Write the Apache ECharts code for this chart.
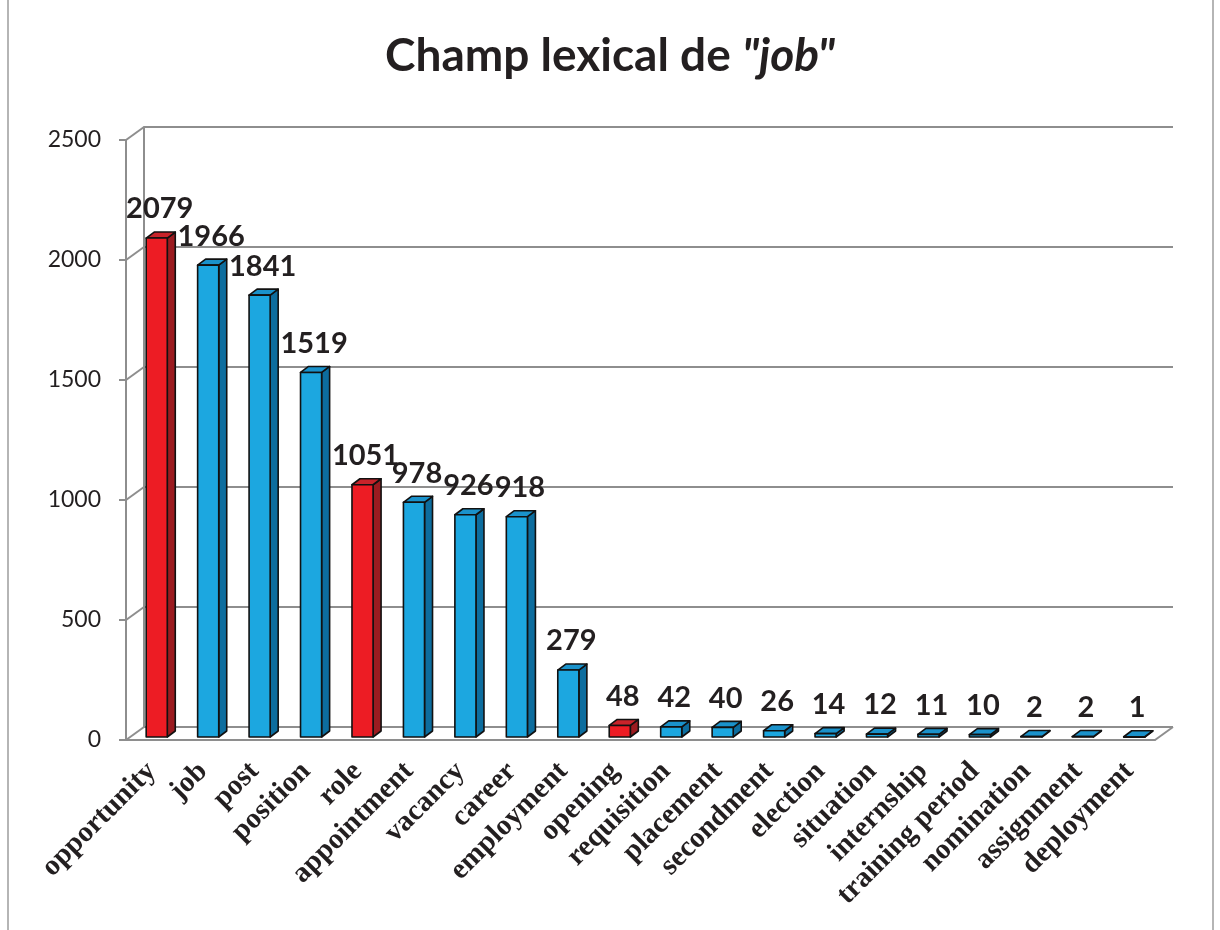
<!DOCTYPE html>
<html>
<head>
<meta charset="utf-8">
<script src="https://cdn.jsdelivr.net/npm/echarts@6/dist/echarts.min.js"></script>
<style>
html, body { margin: 0; padding: 0; background: #fff; }
#main { width: 1220px; height: 930px; }
</style>
</head>
<body>
<div id="main"></div>
<script>
// données
var categories = ['opportunity', 'job', 'post', 'position', 'role', 'appointment', 'vacancy', 'career', 'employment', 'opening',
    'requisition', 'placement', 'secondment', 'election', 'situation', 'internship', 'training period', 'nomination', 'assignment', 'deployment'];
var counts = [2079, 1966, 1841, 1519, 1051, 978, 926, 918, 279, 48, 42, 40, 26, 14, 12, 11, 10, 2, 2, 1];
var highlighted = ['opportunity', 'role', 'opening'];
var yTicks = [0, 500, 1000, 1500, 2000, 2500];

// effet 3D
var wallDepth = [18, -13];
var barShift = [5, -3];
var barDepth = [8, -6];
var colors = {
    red: ['#ed1c24', '#c8232a', '#9b1b20'],
    blue: ['#1ca7e0', '#1a92cb', '#0d6d9e']
};
var lineGray = '#8e8e8e';

function renderBar(params, api) {
    var idx = api.value(0);
    var val = api.value(1);
    var base = api.coord([idx, 0]);
    var top = api.coord([idx, val]);
    var w = api.size([1, 0])[0] * 0.41;
    var x0 = base[0] - w / 2 + barShift[0];
    var x1 = x0 + w;
    var yb = base[1] + barShift[1];
    var yt = top[1] + barShift[1];
    var dx = barDepth[0], dy = barDepth[1];
    var c = highlighted.indexOf(categories[idx]) >= 0 ? colors.red : colors.blue;
    var st = function (fill) {
        return { fill: fill, stroke: '#111', lineWidth: 1.6, lineJoin: 'round' };
    };
    return {
        type: 'group',
        children: [
            { type: 'polygon', shape: { points: [[x1, yb], [x1 + dx, yb + dy], [x1 + dx, yt + dy], [x1, yt]] }, style: st(c[2]) },
            { type: 'polygon', shape: { points: [[x0, yt], [x1, yt], [x1 + dx, yt + dy], [x0 + dx, yt + dy]] }, style: st(c[1]) },
            { type: 'rect', shape: { x: x0, y: yt, width: w, height: Math.max(yb - yt, 0.5) }, style: st(c[0]) },
            {
                type: 'text', x: (x0 + x1) / 2 + 3, y: yt - 29,
                style: { text: String(val), font: 'bold 29px Lato', fill: '#231f20', align: 'center', verticalAlign: 'middle' }
            }
        ]
    };
}

// diagonales du mur et du sol
function renderWall(params, api) {
    var p = api.coord([0, api.value(1)]);
    var left = params.coordSys.x;
    var right = params.coordSys.x + params.coordSys.width;
    var lines = [{
        type: 'line',
        shape: { x1: left, y1: p[1], x2: left + wallDepth[0], y2: p[1] + wallDepth[1] },
        style: { stroke: lineGray, lineWidth: 2 }
    }];
    if (api.value(1) === 0) {
        lines.push({
            type: 'line',
            shape: { x1: right, y1: p[1], x2: right + wallDepth[0], y2: p[1] + wallDepth[1] },
            style: { stroke: lineGray, lineWidth: 2 }
        });
    }
    return { type: 'group', children: lines };
}

var chart = echarts.init(document.getElementById('main'));
var option = {
    backgroundColor: '#fff',
    animation: false,
    title: {
        left: 'center',
        top: 28,
        text: '{a|Champ lexical de }{b|"job"}',
        textStyle: {
            rich: {
                a: { fontFamily: 'Lato', fontWeight: 'bold', fontSize: 46, color: '#231f20' },
                b: { fontFamily: 'Lato', fontWeight: 'bold', fontStyle: 'italic', fontSize: 46, color: '#231f20' }
            }
        }
    },
    graphic: [{
        type: 'rect', silent: true,
        shape: { x: 8, y: -4, width: 1205, height: 940 },
        style: { fill: 'none', stroke: '#b5b5b5', lineWidth: 2 }
    }],
    grid: [
        { left: 126, top: 140, width: 1029, height: 600 },
        { left: 126 + wallDepth[0], top: 140 + wallDepth[1], width: 1029, height: 600 }
    ],
    xAxis: [{
        type: 'category',
        gridIndex: 0,
        data: categories,
        axisLine: { lineStyle: { color: lineGray, width: 2 } },
        axisTick: { length: 8, lineStyle: { color: lineGray, width: 2 } },
        axisLabel: {
            interval: 0, rotate: 45, margin: 27,
            fontFamily: 'Liberation Serif', fontWeight: 'bold', fontSize: 29, color: '#231f20'
        }
    }, {
        type: 'category',
        gridIndex: 1,
        data: categories,
        show: false
    }],
    yAxis: [{
        type: 'value',
        gridIndex: 0,
        min: 0, max: 2500, interval: 500,
        axisLine: { show: true, lineStyle: { color: lineGray, width: 2 } },
        axisTick: { show: true, length: 7, lineStyle: { color: lineGray, width: 2 } },
        axisLabel: {
            margin: 25, fontFamily: 'Lato', fontSize: 23, color: '#231f20',
            formatter: function (v) { return String(v); }
        },
        splitLine: { show: false }
    }, {
        type: 'value',
        gridIndex: 1,
        min: 0, max: 2500, interval: 500,
        axisLine: { show: true, lineStyle: { color: lineGray, width: 2 } },
        axisTick: { show: false },
        axisLabel: { show: false },
        splitLine: { show: true, lineStyle: { color: lineGray, width: 2 } }
    }],
    series: [{
        type: 'custom',
        xAxisIndex: 0, yAxisIndex: 0,
        silent: true,
        clip: false,
        renderItem: renderWall,
        data: yTicks.map(function (v) { return [0, v]; })
    }, {
        type: 'custom',
        name: 'job',
        xAxisIndex: 0, yAxisIndex: 0,
        clip: false,
        renderItem: renderBar,
        encode: { x: 0, y: 1 },
        data: counts.map(function (v, i) { return [i, v]; })
    }]
};
chart.setOption(option);
</script>
</body>
</html>
